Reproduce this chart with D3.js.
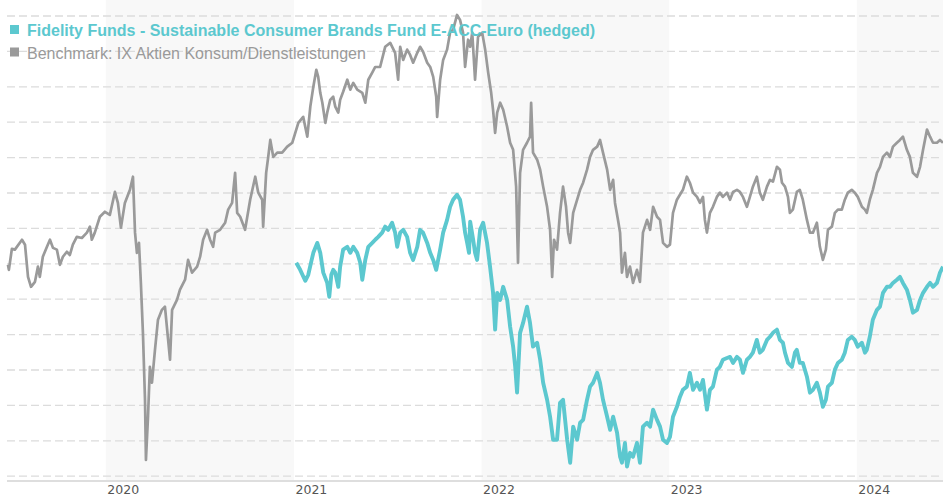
<!DOCTYPE html>
<html>
<head>
<meta charset="utf-8">
<script src="https://cdn.jsdelivr.net/npm/d3@7"></script>
<style>
  body { margin: 0; background: #fff; }
  svg { display: block; }
</style>
</head>
<body>
<div id="chart"></div>
<script>
// Series labels
const fundName = "Fidelity Funds - Sustainable Consumer Brands Fund E-ACC-Euro (hedged)";
const benchName = "Benchmark: IX Aktien Konsum/Dienstleistungen";

// Benchmark: time as decimal year, indexed value
const benchYears = [
  2019.478,2019.483,2019.499,2019.515,2019.553,2019.569,2019.585,2019.601,2019.622,2019.638,
  2019.648,2019.664,2019.686,2019.702,2019.718,2019.739,2019.755,2019.771,2019.792,2019.808,
  2019.824,2019.845,2019.872,2019.899,2019.915,2019.925,2019.941,2019.968,2019.995,2020.021,
  2020.048,2020.064,2020.080,2020.101,2020.128,2020.144,2020.155,2020.165,2020.176,2020.186,
  2020.197,2020.208,2020.213,2020.224,2020.234,2020.245,2020.261,2020.277,2020.298,2020.314,
  2020.341,2020.352,2020.378,2020.394,2020.421,2020.437,2020.458,2020.485,2020.501,2020.517,
  2020.538,2020.554,2020.570,2020.581,2020.607,2020.634,2020.650,2020.671,2020.687,2020.698,
  2020.714,2020.740,2020.767,2020.794,2020.810,2020.831,2020.836,2020.852,2020.863,2020.874,
  2020.890,2020.911,2020.937,2020.964,2020.991,2021.023,2021.049,2021.071,2021.087,2021.103,
  2021.119,2021.129,2021.140,2021.151,2021.167,2021.177,2021.193,2021.209,2021.220,2021.236,
  2021.246,2021.262,2021.284,2021.300,2021.316,2021.337,2021.364,2021.380,2021.396,2021.417,
  2021.433,2021.459,2021.486,2021.513,2021.539,2021.555,2021.566,2021.582,2021.603,2021.619,
  2021.635,2021.657,2021.672,2021.688,2021.710,2021.726,2021.742,2021.758,2021.763,2021.779,
  2021.795,2021.816,2021.832,2021.848,2021.869,2021.885,2021.901,2021.912,2021.928,2021.939,
  2021.950,2021.965,2021.981,2022.003,2022.019,2022.035,2022.051,2022.061,2022.072,2022.083,
  2022.099,2022.115,2022.136,2022.152,2022.168,2022.184,2022.194,2022.205,2022.221,2022.242,
  2022.258,2022.264,2022.274,2022.296,2022.312,2022.328,2022.349,2022.365,2022.376,2022.386,
  2022.402,2022.418,2022.434,2022.450,2022.461,2022.472,2022.488,2022.504,2022.525,2022.541,
  2022.562,2022.578,2022.594,2022.616,2022.631,2022.647,2022.669,2022.685,2022.701,2022.711,
  2022.727,2022.738,2022.748,2022.764,2022.775,2022.791,2022.807,2022.828,2022.844,2022.860,
  2022.882,2022.898,2022.914,2022.935,2022.951,2022.967,2022.988,2023.004,2023.020,2023.041,
  2023.057,2023.073,2023.094,2023.110,2023.127,2023.148,2023.164,2023.180,2023.190,2023.201,
  2023.217,2023.233,2023.254,2023.270,2023.286,2023.308,2023.324,2023.340,2023.361,2023.377,
  2023.393,2023.414,2023.430,2023.446,2023.467,2023.483,2023.499,2023.521,2023.537,2023.553,
  2023.574,2023.590,2023.601,2023.617,2023.633,2023.643,2023.659,2023.680,2023.696,2023.712,
  2023.734,2023.750,2023.766,2023.787,2023.803,2023.819,2023.835,2023.846,2023.867,2023.883,
  2023.899,2023.920,2023.936,2023.952,2023.973,2023.989,2024.005,2024.027,2024.043,2024.053,
  2024.069,2024.085,2024.107,2024.123,2024.139,2024.160,2024.176,2024.192,2024.213,2024.229,
  2024.245,2024.266,2024.282,2024.298,2024.320,2024.336,2024.352,2024.373,2024.389,2024.405,
  2024.426,2024.442,2024.458
];
const benchValues = [
  99.7,98.3,104.2,104.0,106.8,105.4,96.3,93.5,94.9,99.2,
  96.3,102.0,104.8,106.8,104.5,104.0,99.7,102.0,103.4,102.5,
  105.4,107.6,107.3,108.8,110.5,106.8,108.8,113.3,114.7,113.8,
  120.3,117.2,110.2,117.2,120.9,124.6,108.8,103.1,105.9,94.6,
  80.5,61.6,44.6,56.8,70.9,66.4,75.7,84.2,87.0,87.9,
  72.9,87.0,89.8,92.7,95.5,101.1,97.5,99.2,102.0,106.8,
  109.6,106.8,104.8,108.8,109.6,111.6,115.3,117.2,125.7,114.4,
  113.3,109.6,118.1,124.6,120.1,118.1,110.5,125.7,130.2,135.0,
  130.2,131.4,131.4,133.1,134.2,139.8,141.5,135.9,144.4,150.0,
  154.8,152.8,148.3,145.5,139.8,142.7,146.3,147.2,144.4,142.7,
  146.3,148.6,152.0,149.2,151.1,149.2,148.3,145.5,152.0,154.0,
  155.6,155.6,161.3,162.4,159.6,152.0,161.3,157.6,160.5,159.0,
  156.8,159.6,161.3,159.9,156.8,155.6,152.8,147.2,141.5,152.0,
  157.6,160.5,165.3,166.1,170.3,168.9,165.3,155.6,163.3,161.3,
  165.3,152.0,164.1,165.3,160.5,154.0,148.3,143.5,137.0,142.7,
  145.5,143.5,138.7,134.2,132.2,121.8,100.3,125.7,132.2,134.2,
  135.9,145.5,131.4,129.4,126.6,121.8,116.1,109.6,96.3,106.8,
  104.0,114.4,121.8,116.1,108.8,105.9,114.4,117.2,120.9,122.9,
  126.6,130.2,132.2,133.1,135.0,131.4,126.6,120.9,123.7,117.2,
  112.4,108.8,97.5,103.1,96.3,99.2,94.6,98.3,94.9,108.8,
  112.4,109.6,116.1,113.3,112.4,105.9,104.8,105.4,114.4,118.1,
  119.5,120.9,124.6,122.9,120.1,118.9,117.2,118.9,112.4,108.8,
  114.4,116.1,118.9,120.1,118.9,120.1,118.1,120.3,120.9,120.3,
  118.9,116.1,118.9,121.8,124.6,120.1,118.1,121.8,123.7,123.2,
  127.4,126.6,122.9,121.8,118.9,114.4,115.3,120.3,120.9,118.1,
  112.4,108.8,108.8,111.6,104.8,101.1,104.0,109.6,110.5,114.4,
  115.3,115.3,118.1,120.1,120.9,120.1,118.9,116.1,115.3,114.4,
  118.1,120.9,125.7,127.4,130.2,131.4,130.2,133.1,134.2,135.0,
  135.9,132.2,130.2,125.7,124.6,127.4,132.2,137.9,135.9,134.2,
  134.2,135.0,134.2
];

// Fund: starts at the beginning of 2021
const fundYears = [
  2021.012,2021.033,2021.060,2021.076,2021.092,2021.103,2021.124,2021.140,2021.156,2021.177,
  2021.188,2021.199,2021.209,2021.220,2021.236,2021.246,2021.262,2021.284,2021.300,2021.316,
  2021.337,2021.353,2021.364,2021.380,2021.396,2021.417,2021.433,2021.449,2021.470,2021.486,
  2021.502,2021.523,2021.539,2021.550,2021.566,2021.582,2021.603,2021.619,2021.635,2021.657,
  2021.672,2021.688,2021.710,2021.726,2021.742,2021.758,2021.779,2021.795,2021.816,2021.832,
  2021.848,2021.869,2021.885,2021.901,2021.912,2021.923,2021.933,2021.939,2021.955,2021.965,
  2021.976,2021.992,2022.008,2022.029,2022.045,2022.061,2022.072,2022.083,2022.099,2022.115,
  2022.136,2022.152,2022.168,2022.179,2022.189,2022.205,2022.221,2022.242,2022.258,2022.274,
  2022.296,2022.312,2022.328,2022.349,2022.365,2022.381,2022.402,2022.418,2022.434,2022.456,
  2022.472,2022.488,2022.509,2022.525,2022.541,2022.562,2022.578,2022.594,2022.616,2022.631,
  2022.647,2022.669,2022.685,2022.701,2022.722,2022.738,2022.748,2022.764,2022.775,2022.791,
  2022.807,2022.828,2022.844,2022.860,2022.882,2022.898,2022.914,2022.935,2022.951,2022.967,
  2022.988,2023.004,2023.020,2023.041,2023.057,2023.073,2023.094,2023.110,2023.127,2023.148,
  2023.164,2023.180,2023.201,2023.217,2023.233,2023.254,2023.270,2023.286,2023.308,2023.324,
  2023.340,2023.361,2023.377,2023.393,2023.414,2023.430,2023.446,2023.467,2023.483,2023.499,
  2023.521,2023.537,2023.553,2023.574,2023.590,2023.606,2023.617,2023.633,2023.654,2023.670,
  2023.680,2023.696,2023.712,2023.734,2023.750,2023.766,2023.787,2023.803,2023.819,2023.835,
  2023.846,2023.867,2023.883,2023.899,2023.920,2023.936,2023.952,2023.973,2023.989,2024.005,
  2024.027,2024.043,2024.053,2024.069,2024.085,2024.107,2024.123,2024.139,2024.160,2024.176,
  2024.192,2024.213,2024.229,2024.245,2024.266,2024.282,2024.298,2024.320,2024.336,2024.352,
  2024.373,2024.389,2024.405,2024.426,2024.442,2024.458
];
const fundValues = [
  100.3,98.3,95.2,96.9,100.6,103.1,105.9,103.1,97.5,94.6,
  90.7,96.9,98.3,97.5,93.5,99.2,104.0,104.8,103.1,104.8,
  103.1,100.3,95.5,101.1,104.8,105.9,106.8,107.6,108.8,110.5,
  109.6,111.6,108.8,104.8,108.8,109.6,107.6,103.1,101.1,104.8,
  109.6,108.8,105.9,103.1,101.1,98.3,104.0,108.8,112.4,116.1,
  118.1,119.5,118.1,113.3,108.8,105.9,103.1,111.9,106.8,103.1,
  101.1,109.6,111.6,105.9,99.2,91.8,81.4,91.8,89.8,93.5,
  89.8,82.2,76.6,70.9,63.6,80.5,83.3,87.9,83.3,76.6,
  77.7,72.9,66.4,61.6,56.8,50.3,50.3,60.7,61.6,50.3,
  43.8,54.0,50.3,55.1,55.9,61.6,65.3,66.4,69.2,66.4,
  61.6,56.8,53.1,56.8,52.3,45.5,43.8,49.4,42.7,46.6,
  45.5,49.4,43.8,54.0,55.1,54.0,58.8,55.9,54.0,50.3,
  49.4,51.1,56.8,59.6,62.4,64.4,65.3,69.2,64.4,66.4,
  64.4,67.2,58.8,64.4,65.3,70.1,70.9,72.9,73.4,73.7,
  72.0,73.7,72.9,69.2,72.9,73.7,74.9,78.5,74.9,75.7,
  78.5,79.4,80.5,81.4,78.5,77.7,74.9,72.0,70.9,74.9,
  75.7,72.0,72.0,68.1,63.6,64.4,66.4,63.6,59.6,61.6,
  65.3,66.4,70.1,72.0,72.9,74.9,78.5,79.4,78.5,76.6,
  77.7,74.9,75.7,79.4,84.2,87.0,87.9,91.8,93.5,93.5,
  94.6,95.5,96.3,94.6,92.7,89.8,86.2,87.0,89.8,91.8,
  93.5,94.6,93.5,94.6,97.5,99.2
];

// Axis / grid
const gridValues = [40, 50, 60, 70, 80, 90, 100, 110, 120, 130, 140, 150, 160, 170];
const shadedYears = [2020, 2022, 2024];
const xStart = 2019.473, xEnd = 2024.458;

const fundColor = "#5cc8cf";
const benchColor = "#9a9a9a";

const width = 943, height = 500;
const left = 7, right = 943, axisY = 481;

// decimal year -> Date
function yearToDate(t) {
  const yr = Math.floor(t);
  const s = Date.UTC(yr, 0, 1), e = Date.UTC(yr + 1, 0, 1);
  return new Date(s + (t - yr) * (e - s));
}

const bench = benchYears.map((t, i) => ({ date: yearToDate(t), v: benchValues[i] }));
const fund = fundYears.map((t, i) => ({ date: yearToDate(t), v: fundValues[i] }));

const x = d3.scaleUtc().domain([yearToDate(xStart), yearToDate(xEnd)]).range([left, right]);
const y = d3.scaleLinear().domain([40, 170]).range([476.2, 16]);

const svg = d3.select("#chart").append("svg")
    .attr("width", width)
    .attr("height", height);

// alternating year bands
svg.append("g").selectAll("rect")
    .data(shadedYears)
    .join("rect")
    .attr("x", d => x(new Date(Date.UTC(d, 0, 1))))
    .attr("y", 0)
    .attr("width", d => Math.min(x(new Date(Date.UTC(d + 1, 0, 1))), right) - x(new Date(Date.UTC(d, 0, 1))))
    .attr("height", axisY)
    .attr("fill", "#f8f8f8");

// dashed grid
svg.append("g").selectAll("line")
    .data(gridValues)
    .join("line")
    .attr("x1", left)
    .attr("x2", right)
    .attr("y1", d => y(d))
    .attr("y2", d => y(d))
    .attr("stroke", "#dcdcdc")
    .attr("stroke-width", 1.3)
    .attr("stroke-dasharray", "8,4");

// baseline
svg.append("line")
    .attr("x1", left).attr("x2", right)
    .attr("y1", axisY).attr("y2", axisY)
    .attr("stroke", "#dedede")
    .attr("stroke-width", 2);

// x axis
const xAxis = d3.axisBottom(x)
    .ticks(d3.utcYear.every(1))
    .tickFormat(d3.utcFormat("%Y"))
    .tickSize(0)
    .tickPadding(4);

svg.append("g")
    .attr("transform", "translate(0," + axisY + ")")
    .call(xAxis)
    .call(g => g.select(".domain").remove())
    .selectAll("text")
    .attr("text-anchor", "start")
    .attr("x", 1)
    .attr("fill", "#555")
    .style("font-family", "'DejaVu Sans', sans-serif")
    .style("font-size", "12.5px");

const line = d3.line()
    .x(d => x(d.date))
    .y(d => y(d.v));

svg.append("path")
    .datum(bench)
    .attr("d", line)
    .attr("fill", "none")
    .attr("stroke", benchColor)
    .attr("stroke-width", 2.7)
    .attr("stroke-linejoin", "round");

svg.append("path")
    .datum(fund)
    .attr("d", line)
    .attr("fill", "none")
    .attr("stroke", fundColor)
    .attr("stroke-width", 3.9)
    .attr("stroke-linejoin", "round");

// legend
const legend = svg.append("g")
    .style("font-family", "'Liberation Sans', Arial, sans-serif")
    .style("font-size", "16px");

const legendItems = [
  { name: fundName, color: fundColor, weight: "bold", base: 36 },
  { name: benchName, color: benchColor, weight: "normal", base: 58.5 }
];

legendItems.forEach(d => {
  legend.append("rect")
      .attr("x", 10).attr("y", d.base - 11)
      .attr("width", 9).attr("height", 9)
      .attr("fill", d.color);
  legend.append("text")
      .attr("x", 27).attr("y", d.base)
      .attr("fill", d.color)
      .attr("font-weight", d.weight)
      .text(d.name);
});
</script>
</body>
</html>
